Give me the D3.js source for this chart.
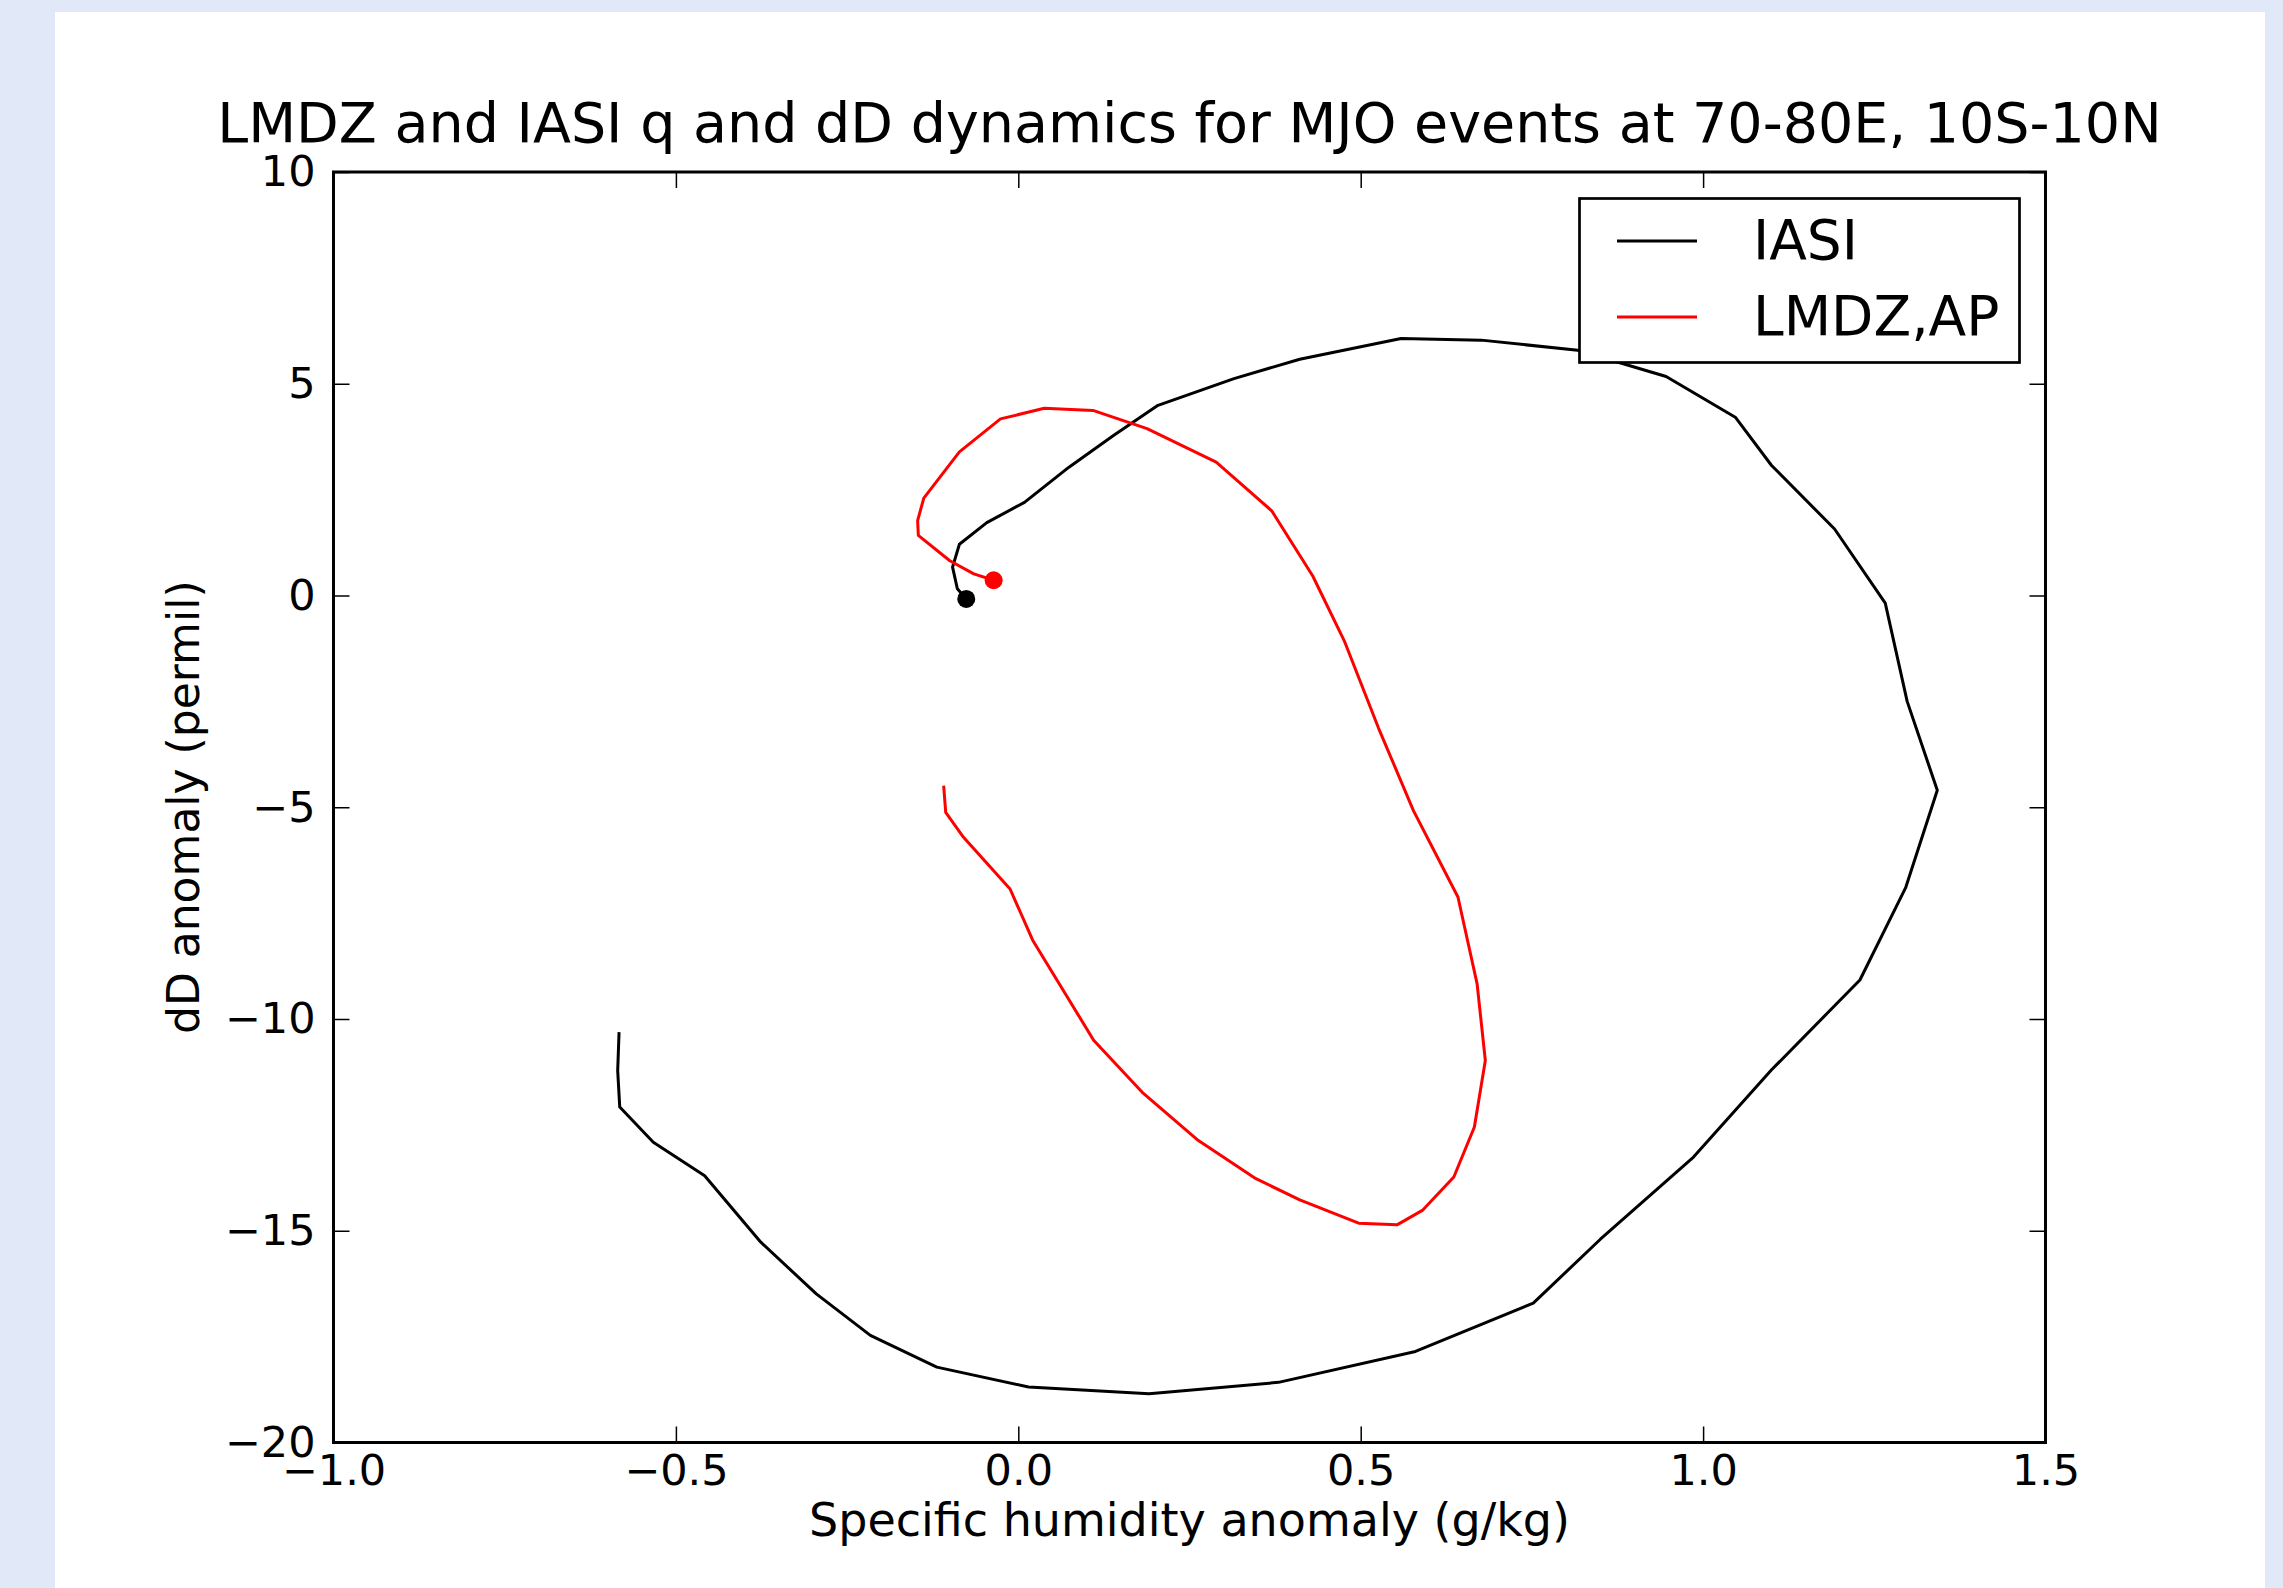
<!DOCTYPE html>
<html>
<head>
<meta charset="utf-8">
<script src="https://cdn.jsdelivr.net/npm/d3@7"></script>
<style>
  body { margin: 0; background: #e1e8f7; }
  svg { display: block; font-family: "DejaVu Sans", sans-serif; }
</style>
</head>
<body>
<script>
// IASI trajectory (q anomaly g/kg, dD anomaly permil), first point is the dot
const iasiQ = [-0.076, -0.089, -0.096, -0.086, -0.046, 0.009, 0.074, 0.139, 0.204, 0.315, 0.411, 0.559, 0.676, 0.817, 0.946, 1.047, 1.100, 1.192, 1.266, 1.298, 1.342, 1.296, 1.229, 1.100, 0.986, 0.850, 0.752, 0.580, 0.380, 0.191, 0.015, -0.119, -0.216, -0.295, -0.376, -0.458, -0.533, -0.582, -0.585, -0.583];
const iasiDD = [-0.08, 0.16, 0.67, 1.21, 1.72, 2.20, 3.03, 3.78, 4.49, 5.12, 5.58, 6.07, 6.03, 5.79, 5.17, 4.21, 3.07, 1.57, -0.18, -2.50, -4.60, -6.89, -9.08, -11.20, -13.26, -15.20, -16.71, -17.85, -18.58, -18.85, -18.69, -18.22, -17.47, -16.49, -15.27, -13.70, -12.91, -12.08, -11.22, -10.31];

// LMDZ,AP trajectory
const lmdzQ = [-0.036, -0.065, -0.100, -0.146, -0.147, -0.138, -0.086, -0.026, 0.038, 0.109, 0.188, 0.289, 0.370, 0.430, 0.476, 0.526, 0.577, 0.642, 0.670, 0.682, 0.666, 0.636, 0.590, 0.553, 0.497, 0.411, 0.347, 0.263, 0.181, 0.110, 0.021, -0.012, -0.080, -0.106, -0.109];
const lmdzDD = [0.36, 0.51, 0.82, 1.42, 1.77, 2.30, 3.39, 4.17, 4.42, 4.37, 3.94, 3.15, 2.00, 0.46, -1.07, -3.13, -5.08, -7.12, -9.17, -10.98, -12.55, -13.73, -14.52, -14.86, -14.82, -14.27, -13.77, -12.87, -11.73, -10.50, -8.14, -6.93, -5.71, -5.12, -4.49];

const seriesNames = ["IASI", "LMDZ,AP"];
const seriesColors = ["#000000", "#ff0000"];

const xTicks = [-1.0, -0.5, 0.0, 0.5, 1.0, 1.5];
const yTicks = [-20, -15, -10, -5, 0, 5, 10];

const titleText = "LMDZ and IASI q and dD dynamics for MJO events at 70-80E, 10S-10N";
const xLabel = "Specific humidity anomaly (g/kg)";
const yLabel = "dD anomaly (permil)";

const width = 2283;
const height = 1588;
const plot = { left: 333.5, right: 2045.5, top: 172, bottom: 1442.5 };

const svg = d3.select("body").append("svg")
    .attr("width", width)
    .attr("height", height);

// white figure panel on the light blue page
svg.append("rect")
    .attr("x", 55).attr("y", 12)
    .attr("width", 2210).attr("height", height - 12)
    .attr("fill", "#ffffff");

const x = d3.scaleLinear().domain([-1, 1.5]).range([plot.left, plot.right]);
const y = d3.scaleLinear().domain([-20, 10]).range([plot.bottom, plot.top]);

const series = [
    { name: seriesNames[0], color: seriesColors[0], pts: iasiQ.map((q, i) => [q, iasiDD[i]]) },
    { name: seriesNames[1], color: seriesColors[1], pts: lmdzQ.map((q, i) => [q, lmdzDD[i]]) }
];

const line = d3.line()
    .x(d => x(d[0]))
    .y(d => y(d[1]));

svg.selectAll(".traj")
    .data(series)
    .join("path")
    .attr("class", "traj")
    .attr("d", d => line(d.pts))
    .attr("fill", "none")
    .attr("stroke", d => d.color)
    .attr("stroke-width", 3)
    .attr("stroke-linejoin", "round");

svg.selectAll(".start")
    .data(series)
    .join("circle")
    .attr("class", "start")
    .attr("cx", d => x(d.pts[0][0]))
    .attr("cy", d => y(d.pts[0][1]))
    .attr("r", 9)
    .attr("fill", d => d.color);

// axes, ticks pointing inward like matplotlib
const tickLen = 16;
const styleAxis = g => {
    g.select(".domain").remove();
    g.selectAll(".tick line").attr("stroke", "#000").attr("stroke-width", 1.5);
    g.selectAll(".tick text").attr("fill", "#000").attr("font-size", 43)
        .attr("font-family", "DejaVu Sans, sans-serif");
};

svg.append("g")
    .attr("transform", `translate(0,${plot.bottom})`)
    .call(d3.axisBottom(x).tickValues(xTicks).tickSize(-tickLen).tickPadding(12).tickFormat(d3.format(".1f")))
    .call(styleAxis);

svg.append("g")
    .attr("transform", `translate(0,${plot.top})`)
    .call(d3.axisTop(x).tickValues(xTicks).tickSize(-tickLen).tickFormat(""))
    .call(styleAxis);

svg.append("g")
    .attr("transform", `translate(${plot.left},0)`)
    .call(d3.axisLeft(y).tickValues(yTicks).tickSize(-tickLen).tickPadding(18).tickFormat(d3.format("d")))
    .call(styleAxis);

svg.append("g")
    .attr("transform", `translate(${plot.right},0)`)
    .call(d3.axisRight(y).tickValues(yTicks).tickSize(-tickLen).tickFormat(""))
    .call(styleAxis);

svg.append("rect")
    .attr("x", plot.left).attr("y", plot.top)
    .attr("width", plot.right - plot.left)
    .attr("height", plot.bottom - plot.top)
    .attr("fill", "none")
    .attr("stroke", "#000")
    .attr("stroke-width", 3);

// title and axis labels
svg.append("text")
    .attr("x", (plot.left + plot.right) / 2)
    .attr("y", 142)
    .attr("text-anchor", "middle")
    .attr("font-size", 55.5)
    .text(titleText);

svg.append("text")
    .attr("x", (plot.left + plot.right) / 2)
    .attr("y", 1536)
    .attr("text-anchor", "middle")
    .attr("font-size", 46)
    .text(xLabel);

svg.append("text")
    .attr("transform", `translate(199,${(plot.top + plot.bottom) / 2}) rotate(-90)`)
    .attr("text-anchor", "middle")
    .attr("font-size", 44)
    .text(yLabel);

// legend
const legend = svg.append("g");
legend.append("rect")
    .attr("x", 1579.5).attr("y", 198.5)
    .attr("width", 440).attr("height", 164)
    .attr("fill", "#fff")
    .attr("stroke", "#000")
    .attr("stroke-width", 2.7);

const items = legend.selectAll(".item")
    .data(series)
    .join("g")
    .attr("class", "item")
    .attr("transform", (d, i) => `translate(0,${241 + i * 76})`);

items.append("line")
    .attr("x1", 1617).attr("x2", 1697)
    .attr("stroke", d => d.color)
    .attr("stroke-width", 3);

items.append("text")
    .attr("x", 1753)
    .attr("y", 18)
    .attr("font-size", 55)
    .text(d => d.name);
</script>
</body>
</html>
